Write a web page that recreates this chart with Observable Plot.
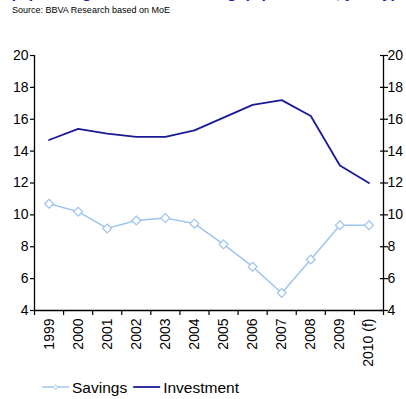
<!DOCTYPE html>
<html>
<head>
<meta charset="utf-8">
<script src="https://cdn.jsdelivr.net/npm/d3@7"></script>
<script src="https://cdn.jsdelivr.net/npm/@observablehq/plot@0.6"></script>
<style>
  body { margin: 0; background: #fff; font-family: "Liberation Sans", Arial, sans-serif; }
  #wrap { width: 406px; height: 399px; position: relative; overflow: hidden; }
  #title { height: 4px; overflow: hidden; position: relative; }
  #title span { position: absolute; left: 10px; top: -16.5px; line-height: 18px; font-size: 16px; font-weight: bold; color: #1f1fa0; white-space: nowrap; }
  #source { height: 12px; line-height: 12px; font-size: 9px; padding-left: 12px; color: #000; }
  #legend { position: absolute; top: 378px; left: 0; width: 406px; height: 20px; }
  svg { display: block; }
</style>
</head>
<body>
<div id="wrap">
  <div id="title"><span>(%) Savings and investment gap (% of GDP, yearly)</span></div>
  <div id="source">Source: BBVA Research based on MoE</div>
  <div id="chart"></div>
  <div id="legend"></div>
</div>
<script>
const years = ["1999","2000","2001","2002","2003","2004","2005","2006","2007","2008","2009","2010 (f)"];
const savings = [10.7, 10.2, 9.15, 9.65, 9.8, 9.45, 8.15, 6.75, 5.1, 7.2, 9.35, 9.35];
const investment = [14.7, 15.4, 15.1, 14.9, 14.9, 15.3, 16.1, 16.9, 17.2, 16.2, 13.1, 12.0];
const yTicks = [4, 6, 8, 10, 12, 14, 16, 18, 20];
const seriesNames = ["Savings", "Investment"];
const colors = ["#9dc3ee", "#1a1a96"];

const idx = years.map((_, i) => i);
const bounds = d3.range(years.length + 1).map(i => i - 0.5);
const savData = idx.map(i => ({i, v: savings[i]}));
const invData = idx.map(i => ({i, v: investment[i]}));

const chart = Plot.plot({
  width: 406,
  height: 362,
  marginTop: 39,
  marginBottom: 68,
  marginLeft: 34,
  marginRight: 23,
  style: {fontFamily: "'Liberation Sans', Arial, sans-serif", fontSize: "14px", color: "#000", background: "#fff", overflow: "visible"},
  x: {type: "linear", domain: [-0.5, years.length - 0.5], axis: null},
  y: {domain: [4, 20], axis: null},
  marks: [
    Plot.ruleX([-0.5, years.length - 0.5], {y1: 4, y2: 20, stroke: "#000", strokeWidth: 1.3}),
    Plot.ruleY([4], {stroke: "#000", strokeWidth: 1.3}),
    Plot.axisY({anchor: "left", label: null, ticks: yTicks, tickSize: 4, tickPadding: 2, fontSize: 14, stroke: "#000", fill: "#000", strokeWidth: 1.2}),
    Plot.axisY({anchor: "right", label: null, ticks: yTicks, tickSize: 4, tickPadding: 0, fontSize: 14, stroke: "#000", fill: "#000", strokeWidth: 1.2}),
    Plot.axisY({anchor: "right", label: null, ticks: yTicks, tickSize: 4, dx: -4, tickFormat: () => "", stroke: "#000", strokeWidth: 1.2}),
    Plot.axisX({anchor: "bottom", label: null, ticks: bounds, tickSize: 5, tickFormat: () => "", stroke: "#000", strokeWidth: 1.2}),
    Plot.axisX({anchor: "bottom", label: null, ticks: idx, tickSize: 0, tickPadding: 8, tickRotate: -90, tickFormat: i => years[i], fontSize: 14, fill: "#000"}),
    Plot.lineY(invData, {x: "i", y: "v", stroke: colors[1], strokeWidth: 1.8}),
    Plot.lineY(savData, {x: "i", y: "v", stroke: colors[0], strokeWidth: 1.4}),
    Plot.dot(savData, {x: "i", y: "v", symbol: "diamond2", r: 4, stroke: colors[0], fill: "#fff", strokeWidth: 1.2})
  ]
});
document.getElementById("chart").appendChild(chart);

// legend
const lg = d3.select("#legend").append("svg").attr("width", 406).attr("height", 20)
  .style("font-family", "'Liberation Sans', Arial, sans-serif").style("font-size", "15.5px");
let x = 42;
seriesNames.forEach((name, k) => {
  const g = lg.append("g");
  g.append("line").attr("x1", x).attr("x2", x + 27).attr("y1", 9).attr("y2", 9)
    .attr("stroke", colors[k]).attr("stroke-width", k === 0 ? 1.4 : 1.8);
  if (k === 0) {
    g.append("path").attr("d", d3.symbol(d3.symbolDiamond2, 14)()).attr("transform", `translate(${x + 13.5},9)`)
      .attr("fill", "#fff").attr("stroke", colors[0]).attr("stroke-width", 1);
  }
  const t = g.append("text").attr("x", x + 30).attr("y", 14.5).attr("fill", "#000").text(name);
  x = x + 30 + t.node().getComputedTextLength() + 6;
});
</script>
</body>
</html>
